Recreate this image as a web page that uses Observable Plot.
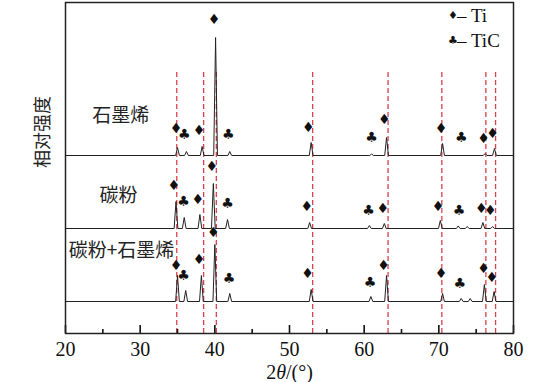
<!DOCTYPE html>
<html><head><meta charset="utf-8">
<script src="https://cdn.jsdelivr.net/npm/d3@7"></script>
<script src="https://cdn.jsdelivr.net/npm/@observablehq/plot@0.6"></script>
<style>body{margin:0;background:#fff}</style>
</head><body><div id="chart"></div>
<script>
// ---- data ----
const samples = ["碳粉+石墨烯", "碳粉", "石墨烯"];
const offsets = [32, 105, 178];            // vertical stacking (a.u.)
const labelX = [27.5, 27.1, 27.4];          // 2θ where sample name sits
const labelH = [51, 33, 40];                // height of sample name above its baseline

// 石墨烯 (top)
const peaksTopX = [35.0, 36.2, 38.3, 40.1, 42.0, 52.9, 61.0, 63.0, 70.5, 76.2, 77.45];
const peaksTopH = [8, 4, 9, 118, 4, 13, 1.5, 18, 12, 2, 7];
// 碳粉 (middle)
const peaksMidX = [34.8, 35.9, 38.0, 39.8, 41.7, 52.7, 60.7, 62.7, 70.2, 72.6, 73.8, 75.9, 77.2];
const peaksMidH = [27, 11, 14, 45, 9, 6, 3, 5, 8, 2.5, 2, 6, 2];
// 碳粉+石墨烯 (bottom)
const peaksBotX = [35.0, 36.1, 38.2, 40.0, 42.0, 52.9, 60.9, 63.0, 70.5, 73.0, 74.2, 76.1, 77.4];
const peaksBotH = [26, 11, 26, 57, 8, 12, 5, 26, 8, 3, 3, 17, 10];

// phase markers (♦ = Ti, ♣ = TiC)
const markerSymbols = ["♦", "♣", "♦", "♦", "♣", "♦", "♣", "♦", "♦", "♣", "♦", "♦"];
const markTopX = [34.8, 35.9, 37.9, 39.9, 41.8, 52.5, 61.0, 62.7, 70.3, 73.0, 76.0, 77.2];
const markTopH = [27, 21, 25, 136, 21, 28, 18, 36, 27, 18, 17, 22];
const markMidX = [34.5, 35.8, 37.7, 39.6, 41.7, 52.3, 60.6, 62.5, 69.9, 72.7, 75.7, 76.9];
const markMidH = [43, 27, 29, 62, 25, 22, 18, 20, 22, 18, 20, 18];
const markBotX = [34.8, 35.8, 37.9, 39.8, 41.9, 52.4, 60.8, 62.6, 70.3, 72.8, 76.0, 77.1];
const markBotH = [36, 26, 42, 69, 23, 28, 19, 36, 28, 18, 33, 24];

// reference lines
const refLines = [34.9, 38.5, 40.2, 53.1, 63.2, 70.4, 76.3, 77.6];
const refTop = 261;

const majorTicks = [20, 30, 40, 50, 60, 70, 80];
const minorTicks = [25, 35, 45, 55, 65, 75];

// legend
const legendSymbols = ["♦", "♣"];
const legendNames = ["– Ti", "– TiC"];
const legendX = 71.9;
const legendY = [318, 293];

// ---- build tables ----
const peakSets = [[peaksBotX, peaksBotH], [peaksMidX, peaksMidH], [peaksTopX, peaksTopH]];
const markSets = [[markBotX, markBotH], [markMidX, markMidH], [markTopX, markTopH]];

const lineData = [];
peakSets.forEach(([xs, hs], i) => {
  const o = offsets[i];
  lineData.push({s: i, x: 20, y: o});
  xs.forEach((p, j) => {
    lineData.push({s: i, x: p - 0.25, y: o});
    lineData.push({s: i, x: p, y: o + hs[j]});
    lineData.push({s: i, x: p + 0.25, y: o});
  });
  lineData.push({s: i, x: 80, y: o});
});

const markData = [];
markSets.forEach(([xs, hs], i) => {
  xs.forEach((x, j) => markData.push({x, y: offsets[i] + hs[j], t: markerSymbols[j]}));
});

const labelData = samples.map((name, i) => ({name, x: labelX[i], y: offsets[i] + labelH[i]}));
const legendData = legendSymbols.map((s, i) => ({s, name: legendNames[i], y: legendY[i]}));

const serif = "Liberation Serif, Times New Roman, serif";
const cjk = "Noto Sans CJK SC, sans-serif";

const plot = Plot.plot({
  width: 560, height: 382,
  marginLeft: 65, marginRight: 47, marginTop: 2, marginBottom: 49,
  x: {domain: [20, 80]},
  y: {domain: [0, 331], axis: null},
  marks: [
    Plot.ruleX(refLines, {y1: 0, y2: refTop, stroke: "#d8424e", strokeWidth: 1.3, strokeDasharray: "5,3"}),
    Plot.line(lineData, {x: "x", y: "y", z: "s", stroke: "#222", strokeWidth: 1}),
    Plot.text(markData, {x: "x", y: "y", text: "t", fontSize: 14, fontFamily: "DejaVu Sans", fill: "#111"}),
    Plot.text(labelData, {x: "x", y: "y", text: "name", fontSize: 19, fontFamily: cjk, fill: "#222"}),
    Plot.text(legendData, {x: legendX, y: "y", text: "s", fontSize: 11, fontFamily: "DejaVu Sans", fill: "#111"}),
    Plot.text(legendData, {x: legendX, y: "y", text: "name", textAnchor: "start", dx: 4, fontSize: 19, fontFamily: serif, fill: "#111"}),
    Plot.ruleX(majorTicks, {y1: 0, y2: 8, stroke: "#111", strokeWidth: 1.6}),
    Plot.ruleX(minorTicks, {y1: 0, y2: 4, stroke: "#111", strokeWidth: 1.6}),
    Plot.axisX(majorTicks, {tickSize: 0, tickPadding: 8, fontSize: 20, fontFamily: serif, label: null, fill: "#111"}),
    Plot.text(["2θ/(°)"], {frameAnchor: "bottom", lineAnchor: "middle", dy: 39, fontSize: 20, fontFamily: serif, fill: "#111"}),
    Plot.text(["相对强度"], {frameAnchor: "left", dx: -22, rotate: -90, fontSize: 18, fontFamily: cjk, fill: "#222"}),
    Plot.frame({stroke: "#222", strokeWidth: 1.5})
  ]
});
document.getElementById("chart").append(plot);

// italic θ in the axis title
d3.select(plot).selectAll("text").each(function() {
  if (this.textContent === "2θ/(°)") {
    const s = d3.select(this).text("");
    s.append("tspan").text("2");
    s.append("tspan").attr("font-style", "italic").text("θ");
    s.append("tspan").text("/(°)");
  }
});
</script>
</body></html>
